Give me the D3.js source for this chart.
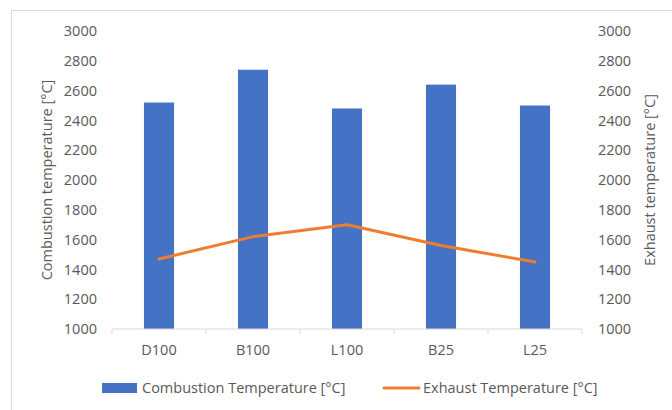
<!DOCTYPE html>
<html>
<head>
<meta charset="utf-8">
<script src="https://cdn.jsdelivr.net/npm/d3@7"></script>
<style>
  body { margin: 0; background: #fff; }
  text { font-family: "Open Sans", sans-serif; fill: #595959; }
</style>
</head>
<body>
<svg id="canvas" width="672" height="410"></svg>
<script>
/********** Data **********/
var categories = ["D100", "B100", "L100", "B25", "L25"];
var combustion = [2520, 2740, 2480, 2640, 2500];
var exhaust = [1470, 1620, 1700, 1560, 1450];
var tickValues = [1000, 1200, 1400, 1600, 1800, 2000, 2200, 2400, 2600, 2800, 3000];

/********** Setup **********/
var svg = d3.select("#canvas");
var plotLeft = 112, plotRight = 582, plotTop = 31, plotBottom = 329;
var fontSize = "14.5px";

// chart frame
svg.append("rect")
    .attr("x", 11.5).attr("y", 10.5)
    .attr("width", 700).attr("height", 420)
    .attr("fill", "none")
    .attr("stroke", "#d9d9d9");

var x = d3.scaleBand()
    .domain(categories)
    .range([plotLeft, plotRight])
    .paddingInner(0.68)
    .paddingOuter(0.34);

var yL = d3.scaleLinear().domain([1000, 3000]).range([plotBottom, plotTop]);
var yR = d3.scaleLinear().domain([1000, 3000]).range([plotBottom, plotTop]);

/********** Bars **********/
svg.append("g")
    .selectAll("rect")
    .data(combustion)
    .enter()
    .append("rect")
    .attr("x", function(d, i) { return x(categories[i]); })
    .attr("y", function(d) { return yL(d); })
    .attr("width", x.bandwidth())
    .attr("height", function(d) { return yL(1000) - yL(d); })
    .attr("fill", "#4472c4");

/********** Line **********/
var line = d3.line()
    .x(function(d, i) { return x(categories[i]) + x.bandwidth() / 2; })
    .y(function(d) { return yR(d); });

svg.append("path")
    .datum(exhaust)
    .attr("d", line)
    .attr("fill", "none")
    .attr("stroke", "#ed7d31")
    .attr("stroke-width", 3)
    .attr("stroke-linecap", "round")
    .attr("stroke-linejoin", "round");

/********** Axes **********/
var xAxis = svg.append("g")
    .attr("transform", "translate(0," + plotBottom + ")");
xAxis.append("line")
    .attr("x1", plotLeft).attr("x2", plotRight)
    .attr("stroke", "#d9d9d9");
xAxis.selectAll(".tick")
    .data(d3.range(categories.length + 1))
    .enter()
    .append("line")
    .attr("x1", function(i) { return plotLeft + i * x.step(); })
    .attr("x2", function(i) { return plotLeft + i * x.step(); })
    .attr("y1", 0).attr("y2", 5)
    .attr("stroke", "#d9d9d9");
xAxis.selectAll("text")
    .data(categories)
    .enter()
    .append("text")
    .attr("x", function(d) { return x(d) + x.bandwidth() / 2; })
    .attr("y", 26)
    .attr("text-anchor", "middle")
    .style("font-size", fontSize)
    .text(function(d) { return d; });

var leftAxis = d3.axisLeft(yL).tickValues(tickValues).tickFormat(d3.format("d")).tickSize(0).tickPadding(15);
var gl = svg.append("g")
    .attr("transform", "translate(" + plotLeft + ",0)")
    .call(leftAxis);
gl.select(".domain").remove();
gl.selectAll("text").style("font-size", fontSize).style("font-family", "Open Sans").attr("fill", "#595959");

var rightAxis = d3.axisRight(yR).tickValues(tickValues).tickFormat(d3.format("d")).tickSize(0).tickPadding(16);
var gr = svg.append("g")
    .attr("transform", "translate(" + plotRight + ",0)")
    .call(rightAxis);
gr.select(".domain").remove();
gr.selectAll("text").style("font-size", fontSize).style("font-family", "Open Sans").attr("fill", "#595959");

// axis titles
svg.append("text")
    .attr("transform", "translate(47," + ((plotTop + plotBottom) / 2) + ") rotate(-90)")
    .attr("text-anchor", "middle")
    .attr("dy", "0.35em")
    .style("font-size", fontSize)
    .text("Combustion temperature [°C]");

svg.append("text")
    .attr("transform", "translate(650," + ((plotTop + plotBottom) / 2) + ") rotate(-90)")
    .attr("text-anchor", "middle")
    .attr("dy", "0.35em")
    .style("font-size", fontSize)
    .text("Exhaust temperature [°C]");

/********** Legend **********/
var legend = svg.append("g").attr("transform", "translate(0,388)");
legend.append("rect")
    .attr("x", 102).attr("y", -5)
    .attr("width", 35).attr("height", 10)
    .attr("fill", "#4472c4");
legend.append("text")
    .attr("x", 142).attr("dy", "0.35em")
    .style("font-size", fontSize)
    .text("Combustion Temperature [°C]");
legend.append("line")
    .attr("x1", 384).attr("x2", 419)
    .attr("stroke", "#ed7d31")
    .attr("stroke-width", 3)
    .attr("stroke-linecap", "round");
legend.append("text")
    .attr("x", 423).attr("dy", "0.35em")
    .style("font-size", fontSize)
    .text("Exhaust Temperature [°C]");
</script>
</body>
</html>
